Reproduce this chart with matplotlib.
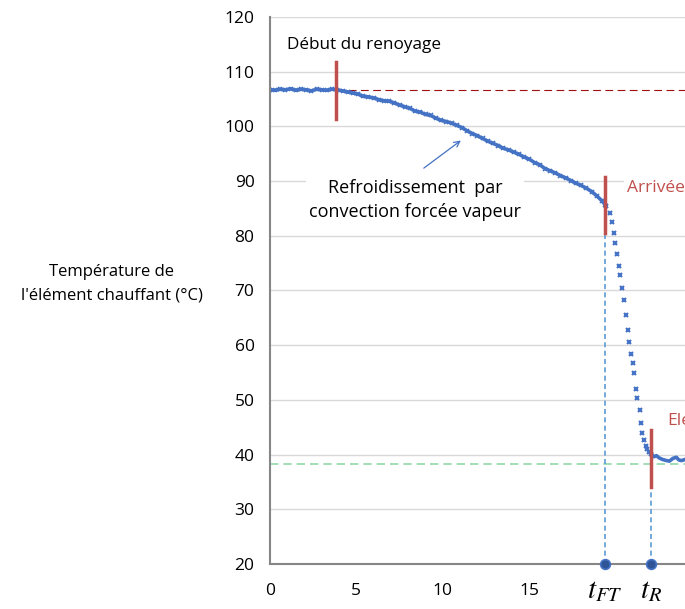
import numpy as np
import matplotlib
matplotlib.use("Agg")
import matplotlib.pyplot as plt

plt.rcParams['font.family'] = ['Open Sans', 'DejaVu Sans']
plt.rcParams['mathtext.fontset'] = 'stix'

t_slow = [0.0, 0.3, 0.6, 0.9, 1.2, 1.5, 1.8, 2.1, 2.4, 2.7, 3.0, 3.3, 3.6, 3.9,
          4.2, 4.5, 4.8, 5.1, 5.4, 5.7, 6.0, 6.3, 6.6, 6.9, 7.2, 7.5, 7.8, 8.1,
          8.4, 8.7, 9.0, 9.3, 9.6, 9.9, 10.2, 10.5, 10.8, 11.1, 11.4, 11.7, 12.0,
          12.3, 12.6, 12.9, 13.2, 13.5, 13.8, 14.1, 14.4, 14.7, 15.0, 15.3, 15.6,
          15.9, 16.2, 16.5, 16.8, 17.1, 17.4, 17.7, 18.0, 18.3, 18.6, 18.9, 19.2,
          19.4]
T_slow = [106.7, 106.6, 106.8, 106.7, 106.9, 106.6, 106.8, 106.7, 106.5, 106.8,
          106.7, 106.6, 106.8, 106.7, 106.5, 106.3, 106.1, 105.9, 105.5, 105.4,
          105.2, 104.9, 104.7, 104.6, 104.3, 103.9, 103.6, 103.3, 102.8, 102.6,
          102.2, 102.0, 101.5, 101.1, 100.9, 100.6, 100.2, 99.8, 99.2, 98.7, 98.3,
          97.8, 97.3, 96.9, 96.5, 96.0, 95.7, 95.3, 94.9, 94.4, 94.0, 93.4, 93.0,
          92.3, 91.9, 91.5, 91.0, 90.6, 90.1, 89.6, 89.2, 88.7, 88.1, 87.3, 86.4,
          85.6]

# fast drop (individual points visible)
t_drop = [19.46, 19.65, 19.79, 19.88, 19.98, 20.08, 20.17, 20.27, 20.36, 20.47,
          20.58, 20.68, 20.77, 20.87, 20.97, 21.06, 21.16, 21.25, 21.37, 21.46,
          21.54, 21.64, 21.73, 21.83, 21.92, 22.06]
T_drop = [85.4, 84.1, 82.6, 80.6, 78.7, 76.6, 74.5, 72.8, 70.5, 68.3, 65.6, 62.8,
          60.6, 58.3, 56.7, 54.9, 52.0, 50.3, 48.1, 45.8, 43.9, 42.7, 41.5, 41.1,
          40.5, 40.1]

# plateau after rewetting
t_end = [22.06, 22.2, 22.35, 22.5, 22.7, 22.93, 23.1, 23.3, 23.5, 23.65, 23.8, 24.0]
T_end = [40.1, 39.6, 39.8, 39.4, 39.1, 38.9, 38.8, 39.3, 39.5, 39.0, 38.9, 39.1]

t_FT = 19.36
t_R = 22.02
T_init = 106.7
T_final = 38.3

blue = '#4472C4'
red = '#C0504D'

fig = plt.figure(figsize=(6.85, 6.09), dpi=100)
ax = fig.add_axes([0.394, 0.074, 0.606, 0.898])

ax.set_xlim(0, 24)
ax.set_ylim(20, 120)
ax.set_yticks(np.arange(20, 121, 10))
ax.set_xticks([0, 5, 10, 15])
ax.grid(axis='y', color='#D9D9D9', lw=1)
ax.set_axisbelow(True)
for s in ['top', 'right']:
    ax.spines[s].set_visible(False)
for s in ['left', 'bottom']:
    ax.spines[s].set_color('#868686')
    ax.spines[s].set_linewidth(1.5)
ax.tick_params(length=0, labelsize=12.5)
ax.tick_params(axis='y', pad=11)
ax.tick_params(axis='x', pad=14)

# reference levels
ax.plot([3.8, 24], [T_init, T_init], color='#A01010', lw=0.8, dashes=(7, 4))
ax.plot([0, 24], [T_final, T_final], color='#92D8A8', lw=1.2, dashes=(5, 3))

# vertical markers for t_FT and t_R
ax.plot([t_FT, t_FT], [20, 85.5], color='#5B9BD5', lw=1.2, dashes=(3, 2))
ax.plot([t_R, t_R], [20, 40.2], color='#5B9BD5', lw=1.2, dashes=(3, 2))
ax.plot([t_FT, t_R], [20, 20], 'o', ms=7, mfc='#2F5597', mec='#4472C4',
        mew=1.2, clip_on=False, zorder=5)

# measured temperature
ax.plot(t_slow, T_slow, color=blue, lw=2.6)
ax.plot(t_slow, T_slow, 'x', color=blue, ms=2.5, mew=1.2)
ax.plot(t_drop, T_drop, 'x', color=blue, ms=3, mew=1.5, ls='none')
ax.plot(t_end, T_end, color=blue, lw=2.6)

# red event bars
ax.plot([3.8, 3.8], [101.4, 111.8], color=red, lw=2.5, zorder=6)
ax.plot([t_FT, t_FT], [80.5, 90.8], color=red, lw=2.5, zorder=6)
ax.plot([t_R, t_R], [34.1, 44.4], color=red, lw=2.5, zorder=6)

# annotations
ax.text(0.98, 114.8, 'Début du renoyage', fontsize=12.3, va='center', ha='left')
ax.text(8.4, 86.6, 'Refroidissement  par\nconvection forcée vapeur', fontsize=13,
        ha='center', va='center', linespacing=1.45,
        bbox=dict(facecolor='white', edgecolor='none', pad=2), zorder=4)
ax.annotate('', xy=(11.17, 97.73), xytext=(8.77, 92.07),
            arrowprops=dict(arrowstyle='->', color=blue, lw=0.9))
ax.text(20.64, 88.8, 'Arrivée', fontsize=12.5, color=red, va='center', ha='left',
        bbox=dict(facecolor='white', edgecolor='none', pad=2), zorder=4)
ax.text(22.95, 46.2, 'Elé', fontsize=12.5, color=red, va='center', ha='left')

fig.text(0.1635, 0.534, "Température de\nl'élément chauffant (°C)", fontsize=12,
         ha='center', va='center', linespacing=1.65)

ax.text(t_FT, 15.1, r'$t_{FT}$', fontsize=21, ha='center', va='center')
ax.text(t_R, 15.1, r'$t_R$', fontsize=21, ha='center', va='center')

fig.savefig('out.png', dpi=100)
